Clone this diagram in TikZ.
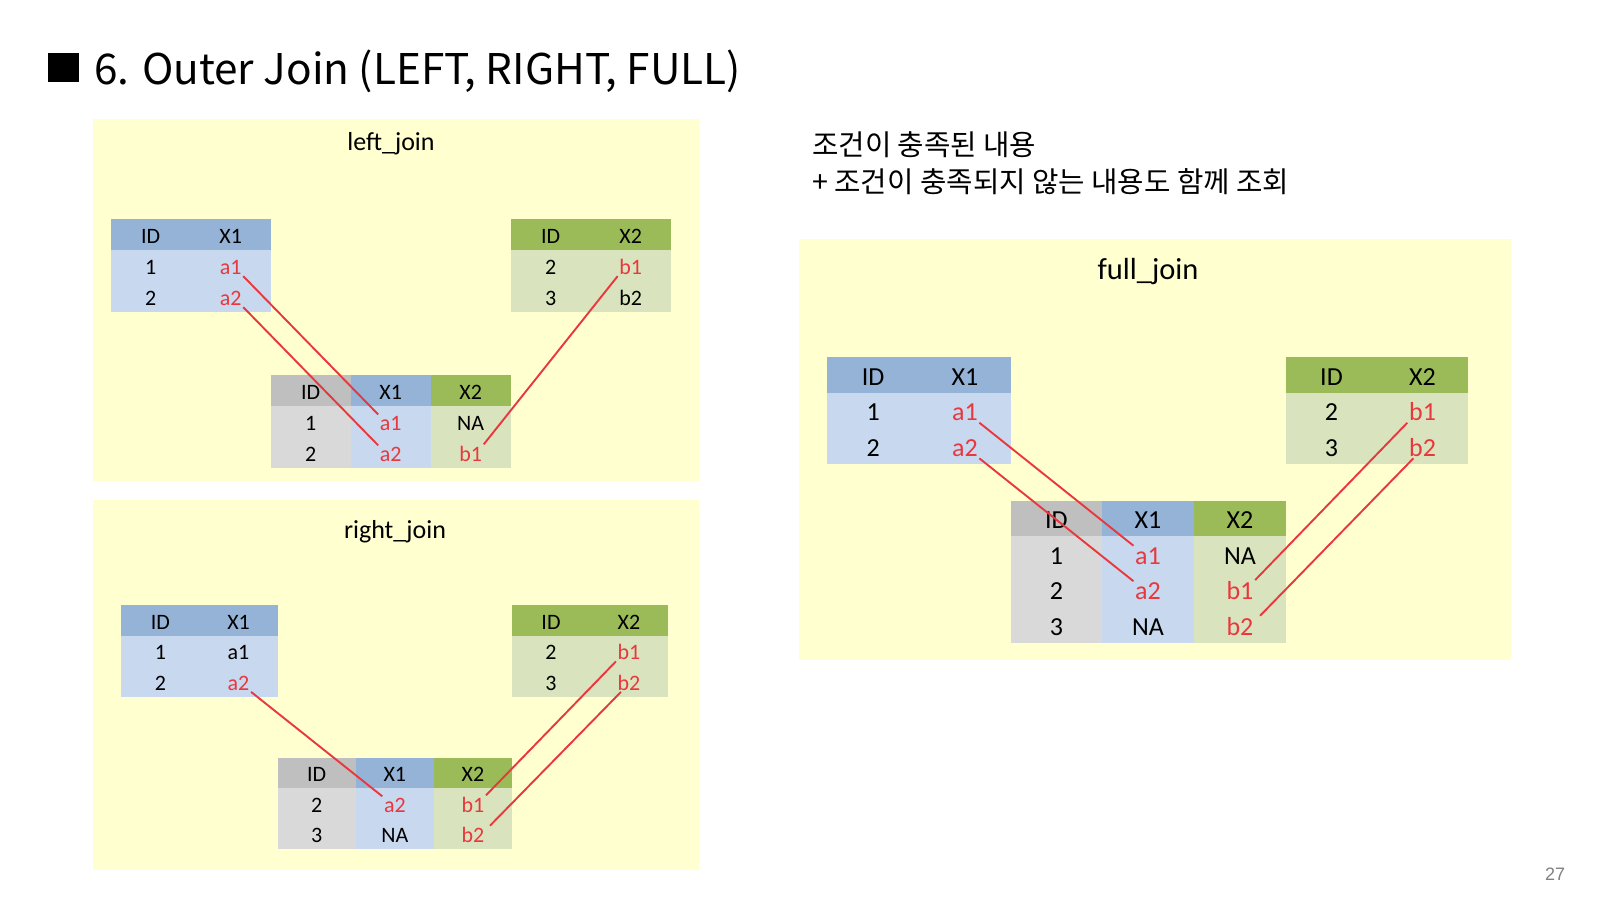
\documentclass[tikz,border=0pt]{standalone}
\usepackage{fontspec}
\setmainfont{Carlito}
\newfontfamily\krfont{Noto Sans CJK KR}
\newfontfamily\pgfont{Liberation Sans}
\definecolor{panel}{HTML}{FFFFD0}
\definecolor{bh}{HTML}{95B3D7}
\definecolor{bb}{HTML}{C8D8EF}
\definecolor{gh}{HTML}{9BBB59}
\definecolor{gb}{HTML}{D9E4BE}
\definecolor{ah}{HTML}{BFBFBF}
\definecolor{ab}{HTML}{D9D9D9}
\definecolor{rd}{HTML}{E8383D}
\newcommand\cell[8]{\fill[#6] (#2,#3) rectangle (#4,#5); \node[#7] (#1) at ({(#2+#4)/2},{(#3+#5)/2}) {#8};}
\begin{document}
\begin{tikzpicture}[x=1pt,y=-1pt,
  ts/.style={inner sep=1.5pt, anchor=base, yshift=-8.8pt, font=\fontsize{22}{22}\selectfont},
  tf/.style={inner sep=1.5pt, anchor=base, yshift=-10.3pt, font=\fontsize{26}{26}\selectfont},
  red/.style={text=rd},
  conn/.style={draw=rd, line width=1.9pt},
  ptitle/.style={font=\fontsize{26}{26}\selectfont, inner sep=0pt},
]
\useasboundingbox (0,0) rectangle (1600,900);
\fill[white] (0,0) rectangle (1600,900);

% title
\fill[black] (48,53) rectangle (79,82);
\node[anchor=base west, inner sep=0pt, font=\krfont\fontsize{42.3}{42.3}\selectfont] (title) at (94,84) {6. Outer Join (LEFT, RIGHT, FULL)};

% korean explanation
\node[anchor=west, inner sep=0pt, font=\krfont\fontsize{28.7}{28.7}\selectfont] (k1) at (812,145) {조건이 충족된 내용};
\node[anchor=west, inner sep=0pt, font=\krfont\fontsize{28.7}{28.7}\selectfont] (k2) at (812,182) {+ 조건이 충족되지 않는 내용도 함께 조회};

% page number
\node[font=\pgfont\fontsize{18}{18}\selectfont, text=black!50, inner sep=0pt] (pg) at (1555,874) {27};

% panels
\fill[panel] (93,119) rectangle (699,481);
\fill[panel] (93,500) rectangle (699,870);
\fill[panel] (799,239) rectangle (1511,660);

\node[ptitle] (tl) at (391,144) {left\_join};
\node[ptitle] (tr) at (395,532) {right\_join};
\node[ptitle, font=\fontsize{30.5}{30.5}\selectfont] (tfj) at (1148,272) {full\_join};

% ===== left_join =====
\cell{L-h1}{110.7}{219}{190.7}{250}{bh}{ts}{ID}
\cell{L-h2}{190.7}{219}{270.7}{250}{bh}{ts}{X1}
\cell{L-11}{110.7}{250}{190.7}{281}{bb}{ts}{1}
\cell{L-a1}{190.7}{250}{270.7}{281}{bb}{ts,red}{a1}
\cell{L-21}{110.7}{281}{190.7}{312}{bb}{ts}{2}
\cell{L-a2}{190.7}{281}{270.7}{312}{bb}{ts,red}{a2}

\cell{R-h1}{510.7}{219}{590.7}{250}{gh}{ts}{ID}
\cell{R-h2}{590.7}{219}{670.7}{250}{gh}{ts}{X2}
\cell{R-11}{510.7}{250}{590.7}{281}{gb}{ts}{2}
\cell{R-b1}{590.7}{250}{670.7}{281}{gb}{ts,red}{b1}
\cell{R-21}{510.7}{281}{590.7}{312}{gb}{ts}{3}
\cell{R-b2}{590.7}{281}{670.7}{312}{gb}{ts}{b2}

\cell{LR-h1}{270.7}{375}{350.7}{406}{ah}{ts}{ID}
\cell{LR-h2}{350.7}{375}{430.7}{406}{bh}{ts}{X1}
\cell{LR-h3}{430.7}{375}{510.7}{406}{gh}{ts}{X2}
\cell{LR-11}{270.7}{406}{350.7}{437}{ab}{ts}{1}
\cell{LR-a1}{350.7}{406}{430.7}{437}{bb}{ts,red}{a1}
\cell{LR-13}{430.7}{406}{510.7}{437}{gb}{ts}{NA}
\cell{LR-21}{270.7}{437}{350.7}{468}{ab}{ts}{2}
\cell{LR-a2}{350.7}{437}{430.7}{468}{bb}{ts,red}{a2}
\cell{LR-b1}{430.7}{437}{510.7}{468}{gb}{ts,red}{b1}

\draw[conn] (L-a1.south east) -- (LR-a1.north west);
\draw[conn] (L-a2.south east) -- (LR-a2.north west);
\draw[conn] (R-b1.south west) -- (LR-b1.north east);

% ===== right_join =====
\cell{P-h1}{121.4}{605}{199.5}{635.5}{bh}{ts}{ID}
\cell{P-h2}{199.5}{605}{277.6}{635.5}{bh}{ts}{X1}
\cell{P-11}{121.4}{635.5}{199.5}{666}{bb}{ts}{1}
\cell{P-a1}{199.5}{635.5}{277.6}{666}{bb}{ts}{a1}
\cell{P-21}{121.4}{666}{199.5}{696.5}{bb}{ts}{2}
\cell{P-a2}{199.5}{666}{277.6}{696.5}{bb}{ts,red}{a2}

\cell{Q-h1}{512}{605}{590}{635.5}{gh}{ts}{ID}
\cell{Q-h2}{590}{605}{668}{635.5}{gh}{ts}{X2}
\cell{Q-11}{512}{635.5}{590}{666}{gb}{ts}{2}
\cell{Q-b1}{590}{635.5}{668}{666}{gb}{ts,red}{b1}
\cell{Q-21}{512}{666}{590}{696.5}{gb}{ts}{3}
\cell{Q-b2}{590}{666}{668}{696.5}{gb}{ts,red}{b2}

\cell{PQ-h1}{277.6}{758}{355.8}{788.3}{ah}{ts}{ID}
\cell{PQ-h2}{355.8}{758}{433.9}{788.3}{bh}{ts}{X1}
\cell{PQ-h3}{433.9}{758}{512}{788.3}{gh}{ts}{X2}
\cell{PQ-11}{277.6}{788.3}{355.8}{818.7}{ab}{ts}{2}
\cell{PQ-a2}{355.8}{788.3}{433.9}{818.7}{bb}{ts,red}{a2}
\cell{PQ-b1}{433.9}{788.3}{512}{818.7}{gb}{ts,red}{b1}
\cell{PQ-21}{277.6}{818.7}{355.8}{849}{ab}{ts}{3}
\cell{PQ-22}{355.8}{818.7}{433.9}{849}{bb}{ts}{NA}
\cell{PQ-b2}{433.9}{818.7}{512}{849}{gb}{ts,red}{b2}

\draw[conn] (P-a2.south east) -- (PQ-a2.north west);
\draw[conn] (Q-b1.south west) -- (PQ-b1.north east);
\draw[conn] ([xshift=5pt]Q-b2.south west) -- ([xshift=4pt]PQ-b2.north east);

% ===== full_join =====
\cell{F-h1}{827.3}{356.7}{919}{392.7}{bh}{tf}{ID}
\cell{F-h2}{919}{356.7}{1010.7}{392.7}{bh}{tf}{X1}
\cell{F-11}{827.3}{392.7}{919}{428.3}{bb}{tf}{1}
\cell{F-a1}{919}{392.7}{1010.7}{428.3}{bb}{tf,red}{a1}
\cell{F-21}{827.3}{428.3}{919}{464}{bb}{tf}{2}
\cell{F-a2}{919}{428.3}{1010.7}{464}{bb}{tf,red}{a2}

\cell{G-h1}{1286}{356.7}{1377}{392.7}{gh}{tf}{ID}
\cell{G-h2}{1377}{356.7}{1468}{392.7}{gh}{tf}{X2}
\cell{G-11}{1286}{392.7}{1377}{428.3}{gb}{tf}{2}
\cell{G-b1}{1377}{392.7}{1468}{428.3}{gb}{tf,red}{b1}
\cell{G-21}{1286}{428.3}{1377}{464}{gb}{tf}{3}
\cell{G-b2}{1377}{428.3}{1468}{464}{gb}{tf,red}{b2}

\cell{FG-h1}{1010.7}{500.7}{1102}{536}{ah}{tf}{ID}
\cell{FG-h2}{1102}{500.7}{1194}{536}{bh}{tf}{X1}
\cell{FG-h3}{1194}{500.7}{1286}{536}{gh}{tf}{X2}
\cell{FG-11}{1010.7}{536}{1102}{571.7}{ab}{tf}{1}
\cell{FG-a1}{1102}{536}{1194}{571.7}{bb}{tf,red}{a1}
\cell{FG-13}{1194}{536}{1286}{571.7}{gb}{tf}{NA}
\cell{FG-21}{1010.7}{571.7}{1102}{607.3}{ab}{tf}{2}
\cell{FG-a2}{1102}{571.7}{1194}{607.3}{bb}{tf,red}{a2}
\cell{FG-b1}{1194}{571.7}{1286}{607.3}{gb}{tf,red}{b1}
\cell{FG-31}{1010.7}{607.3}{1102}{643}{ab}{tf}{3}
\cell{FG-32}{1102}{607.3}{1194}{643}{bb}{tf}{NA}
\cell{FG-b2}{1194}{607.3}{1286}{643}{gb}{tf,red}{b2}

\draw[conn] (F-a1.south east) -- (FG-a1.north west);
\draw[conn] (F-a2.south east) -- (FG-a2.north west);
\draw[conn] (G-b1.south west) -- (FG-b1.north east);
\draw[conn] ([xshift=6pt]G-b2.south west) -- ([xshift=5pt]FG-b2.north east);
\end{tikzpicture}
\end{document}
